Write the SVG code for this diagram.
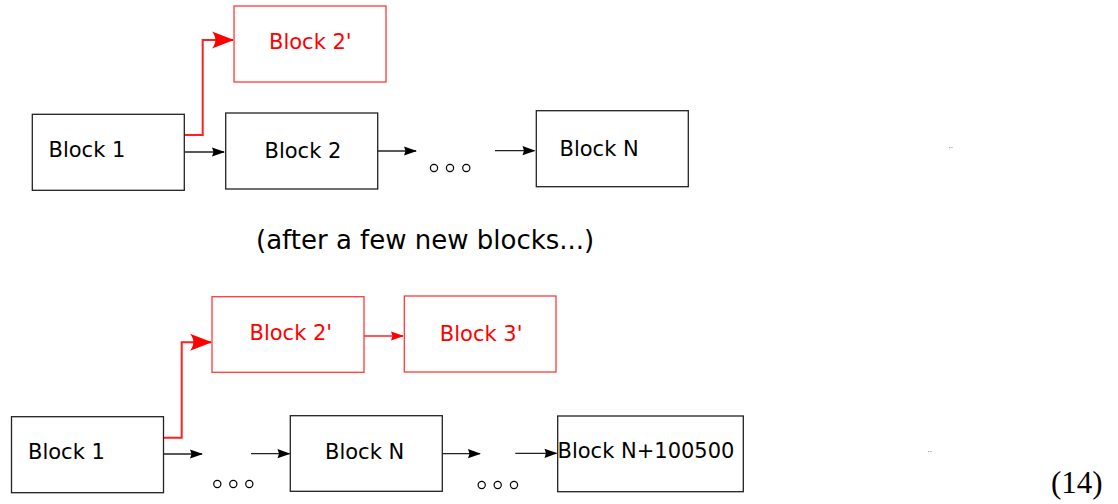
<svg xmlns="http://www.w3.org/2000/svg" width="1118" height="504" viewBox="0 0 1118 504">
<style>
  .box { fill: #ffffff; stroke: #222222; stroke-width: 1.3; }
  .rbox { fill: #ffffff; stroke: #ff3a3a; stroke-width: 1.3; }
  .lbl { font-family: "DejaVu Sans", sans-serif; font-size: 21px; fill: #000000; }
  .rlbl { font-family: "DejaVu Sans", sans-serif; font-size: 21px; fill: #ff0000; }
  .cap { font-family: "DejaVu Sans", sans-serif; font-size: 26px; fill: #000000; }
  .eq { font-family: "Liberation Serif", serif; font-size: 31px; fill: #000000; }
  .tiny { font-family: "DejaVu Sans", sans-serif; font-size: 7px; fill: #444444; }
  .wire { fill: none; stroke: #222222; stroke-width: 1.3; marker-end: url(#ah); }
  .rwire { fill: none; stroke: #ff2020; stroke-width: 2; marker-end: url(#rah); }
  .rwire2 { fill: none; stroke: #ff2020; stroke-width: 1.3; marker-end: url(#rah2); }
  .dot { fill: none; stroke: #000000; stroke-width: 1.2; }
</style>
<defs>
  <marker id="ah" markerUnits="userSpaceOnUse" markerWidth="30" markerHeight="30" refX="0" refY="0" orient="auto" viewBox="-15 -15 30 30" overflow="visible">
    <path d="M1,0 L-12,-4.6 L-10.5,0 L-12,4.6 Z" fill="#000000"/>
  </marker>
  <marker id="rah2" markerUnits="userSpaceOnUse" markerWidth="30" markerHeight="30" refX="0" refY="0" orient="auto" viewBox="-15 -15 30 30" overflow="visible">
    <path d="M1,0 L-12,-4.6 L-10.5,0 L-12,4.6 Z" fill="#ff0000"/>
  </marker>
  <marker id="rah" markerUnits="userSpaceOnUse" markerWidth="40" markerHeight="40" refX="0" refY="0" orient="auto" viewBox="-25 -20 40 40" overflow="visible">
    <path d="M1,0 L-21,-8.5 C-16.5,-3.2 -16.5,3.2 -21,8.5 Z" fill="#ff0000"/>
  </marker>
</defs>

<g id="connectors">
  <!-- top -->
  <polyline class="rwire" points="184,135 202.7,135 202.7,40 233,40"/>
  <line class="wire" x1="184" y1="152" x2="224" y2="152"/>
  <line class="wire" x1="378" y1="151" x2="416" y2="151"/>
  <line class="wire" x1="495" y1="150.7" x2="534.5" y2="150.7"/>
  <!-- bottom -->
  <polyline class="rwire" points="163,437.7 181.7,437.7 181.7,342.3 211,342.3"/>
  <line class="rwire2" x1="364" y1="336" x2="403" y2="336"/>
  <line class="wire" x1="163" y1="454" x2="202" y2="454"/>
  <line class="wire" x1="251" y1="453.7" x2="289.5" y2="453.7"/>
  <line class="wire" x1="442.3" y1="453.7" x2="480" y2="453.7"/>
  <line class="wire" x1="515.3" y1="453.3" x2="556.5" y2="453.3"/>
</g>

<g id="top-block1">
  <rect class="box" x="32.3" y="114.3" width="152" height="76"/>
  <text class="lbl" x="48.5" y="157">Block 1</text>
</g>
<g id="top-block2">
  <rect class="box" x="225.7" y="113" width="152" height="76"/>
  <text class="lbl" x="264.5" y="158">Block 2</text>
</g>
<g id="top-block2p">
  <rect class="rbox" x="234" y="6" width="152" height="76"/>
  <text class="rlbl" x="269" y="49">Block 2'</text>
</g>
<g id="top-dots">
  <circle class="dot" cx="434" cy="168" r="3.6"/>
  <circle class="dot" cx="450" cy="168" r="3.6"/>
  <circle class="dot" cx="466.3" cy="168" r="3.6"/>
</g>
<g id="top-blockN">
  <rect class="box" x="536.3" y="110.7" width="152" height="76"/>
  <text class="lbl" x="559.5" y="156">Block N</text>
</g>

<text id="caption" class="cap" x="256" y="249">(after a few new blocks...)</text>

<g id="bot-block1">
  <rect class="box" x="11.5" y="416.7" width="152" height="76"/>
  <text class="lbl" x="28" y="459">Block 1</text>
</g>
<g id="bot-block2p">
  <rect class="rbox" x="212" y="296.7" width="152" height="75.6"/>
  <text class="rlbl" x="249.5" y="340">Block 2'</text>
</g>
<g id="bot-block3p">
  <rect class="rbox" x="404.3" y="296" width="151.7" height="76"/>
  <text class="rlbl" x="439.8" y="341">Block 3'</text>
</g>
<g id="bot-dots1">
  <circle class="dot" cx="217.3" cy="484" r="3.6"/>
  <circle class="dot" cx="233.3" cy="484" r="3.6"/>
  <circle class="dot" cx="249.3" cy="484" r="3.6"/>
</g>
<g id="bot-blockN">
  <rect class="box" x="290.3" y="415.7" width="152" height="75.6"/>
  <text class="lbl" x="325" y="459">Block N</text>
</g>
<g id="bot-dots2">
  <circle class="dot" cx="481.7" cy="485" r="3.6"/>
  <circle class="dot" cx="497.7" cy="485" r="3.6"/>
  <circle class="dot" cx="514" cy="485" r="3.6"/>
</g>
<g id="bot-blockN100500">
  <rect class="box" x="557.7" y="416" width="185.6" height="75.7"/>
  <text class="lbl" x="557.5" y="457.5">Block N+100500</text>
</g>

<text class="tiny" x="948.5" y="149.5">··</text>
<text class="tiny" x="927.5" y="453.5">··</text>
<text id="eqnum" class="eq" x="1051" y="493">(14)</text>
</svg>
